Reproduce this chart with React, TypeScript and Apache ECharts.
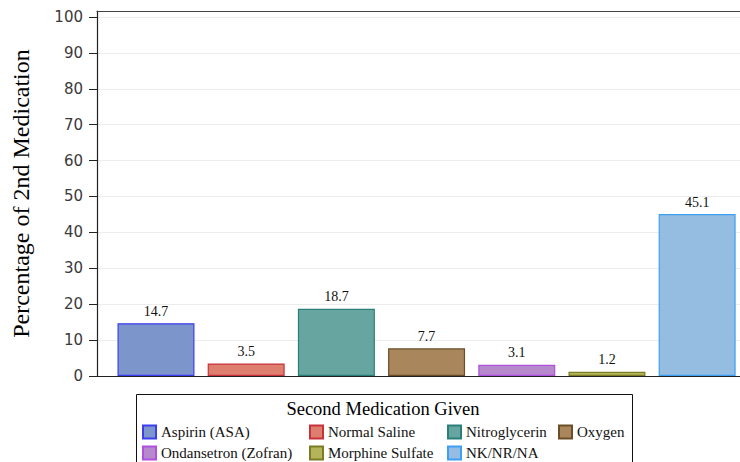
import React, { useEffect, useRef } from "react";
import * as echarts from "echarts";

const categories = [
  "Aspirin (ASA)",
  "Normal Saline",
  "Nitroglycerin",
  "Oxygen",
  "Ondansetron (Zofran)",
  "Morphine Sulfate",
  "NK/NR/NA",
];
const values = [14.7, 3.5, 18.7, 7.7, 3.1, 1.2, 45.1];
const fillColors = ["#7c95ca", "#de7e6f", "#66a5a0", "#a9865b", "#b689cd", "#b4b45a", "#94bde1"];
const borderColors = ["#3c3cf0", "#c8323c", "#2a8078", "#6a4e28", "#b050e0", "#7c7c24", "#3ea0f4"];
const yTicks = [0, 10, 20, 30, 40, 50, 60, 70, 80, 90, 100];
const yAxisTitle = "Percentage of 2nd Medication";
const legendTitle = "Second Medication Given";
const legendColumns = [
  ["Aspirin (ASA)", "Ondansetron (Zofran)"],
  ["Normal Saline", "Morphine Sulfate"],
  ["Nitroglycerin", "NK/NR/NA"],
  ["Oxygen"],
];

const SERIF = "'Liberation Serif', 'Times New Roman', serif";
const SANS = "'DejaVu Sans', Verdana, sans-serif";

export default function App() {
  const ref = useRef<HTMLDivElement>(null);
  useEffect(() => {
    document.body.style.margin = "0";
    const chart = echarts.init(ref.current!, undefined, { renderer: "svg" });
    const legendLefts = [142, 309, 447, 558];
    const xMin = -0.654;
    const xMax = 6.475;
    const option: any = {
      animation: false,
      backgroundColor: "#ffffff",
      grid: { left: 97, top: 11, height: 365, right: 0, containLabel: false },
      xAxis: [
        {
          type: "value",
          min: xMin,
          max: xMax,
          axisLine: { show: true, onZero: false, lineStyle: { color: "#222", width: 1.2 } },
          axisTick: { show: false },
          axisLabel: { show: false },
          splitLine: { show: false },
        },
        {
          type: "value",
          position: "top",
          min: xMin,
          max: xMax,
          axisLine: { show: true, onZero: false, lineStyle: { color: "#444", width: 1.2 } },
          axisTick: { show: false },
          axisLabel: { show: false },
          splitLine: { show: false },
        },
      ],
      yAxis: {
        type: "value",
        min: 0,
        max: 101.67,
        interval: 10,
        name: yAxisTitle,
        nameLocation: "middle",
        nameGap: 64,
        nameTextStyle: { fontFamily: SERIF, fontSize: 24, color: "#000" },
        axisLine: { show: true, onZero: false, lineStyle: { color: "#222", width: 1.2 } },
        axisTick: { show: true, length: 8, customValues: yTicks, lineStyle: { color: "#222" } },
        axisLabel: {
          customValues: yTicks,
          margin: 14,
          fontFamily: SANS,
          fontSize: 15,
          color: "#3a3a3a",
          formatter: (v: number) => (yTicks.includes(v) ? String(v) : ""),
        },
        splitLine: { show: true, lineStyle: { color: "#ececec", width: 1 } },
      },
      title: {
        text: legendTitle,
        left: 383,
        top: 399,
        textAlign: "center",
        textStyle: { fontFamily: SERIF, fontSize: 18.5, fontWeight: "normal", color: "#000" },
        padding: 0,
      },
      legend: legendColumns.map((col, i) => ({
        data: col,
        orient: "vertical",
        icon: "rect",
        left: legendLefts[i],
        top: 424,
        height: 80,
        itemWidth: 13,
        itemHeight: 13,
        itemGap: 5,
        padding: 0,
        selectedMode: false,
        textStyle: { fontFamily: SERIF, fontSize: 15, lineHeight: 16, color: "#111" },
      })),
      graphic: [
        {
          type: "rect",
          shape: { x: 136.5, y: 394.5, width: 496, height: 100 },
          style: { fill: "none", stroke: "#111", lineWidth: 1 },
          silent: true,
        },
      ],
      series: categories.map((name, i) => ({
        type: "bar",
        name,
        stack: "all",
        barWidth: 77,
        data: [[i, values[i]]],
        itemStyle: { color: fillColors[i], borderColor: borderColors[i], borderWidth: 1.2 },
        label: {
          show: true,
          position: "top",
          distance: 5,
          fontFamily: SERIF,
          fontSize: 14,
          color: "#111",
          formatter: (p: any) => values[p.seriesIndex].toFixed(1),
        },
      })),
    };
    chart.setOption(option);
    return () => chart.dispose();
  }, []);
  return <div ref={ref} style={{ width: 740, height: 462 }} />;
}
